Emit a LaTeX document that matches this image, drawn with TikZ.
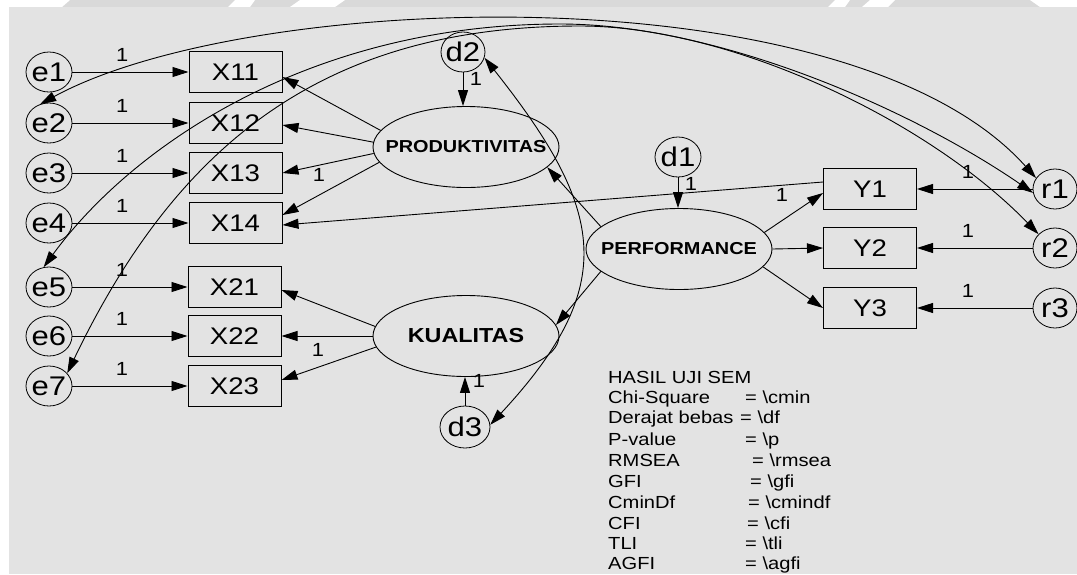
\documentclass[tikz,border=0pt]{standalone}
\usepackage{fontspec}
\setmainfont[FakeStretch=1.15]{Liberation Sans}
\usetikzlibrary{arrows.meta,shapes.geometric}
\definecolor{canvas}{HTML}{E3E3E3}
\definecolor{band}{HTML}{D9D9D9}

\begin{document}
\begin{tikzpicture}[x=1pt,y=-1pt,
  every node/.style={inner sep=0pt},
  link/.style={line width=0.9pt,-{Triangle[length=16pt,width=10pt]}},
  cov/.style={line width=0.9pt,{Triangle[length=16pt,width=10pt]}-{Triangle[length=16pt,width=10pt]}},
  obs/.style={draw,line width=1pt,rectangle,minimum width=93pt,minimum height=41pt,
    font=\fontsize{24}{24}\selectfont},
  err/.style={draw,line width=0.8pt,ellipse,minimum width=46pt,minimum height=40pt,
    inner sep=-6pt,font=\fontsize{27}{27}\selectfont},
  lat/.style={draw,line width=0.9pt,ellipse,minimum width=186pt,minimum height=81pt,
    inner sep=-30pt,font=\bfseries\fontsize{17.3}{17.3}\selectfont},
  one/.style={font=\fontsize{19}{19}\selectfont},
  stat/.style={anchor=base west,font=\fontsize{17.5}{17.5}\selectfont},
]
% paper with its faint slanted stripes, and the drawing area
\fill[white] (0,0) rectangle (1077,574);
\fill[band] (0,0) rectangle (1077,7);
\fill[white] (0,0) -- (70,0) -- (62,7) -- (0,7) -- cycle;
\fill[white] (235,0) -- (255,0) -- (250,7) -- (228,7) -- cycle;
\fill[white] (300,0) -- (345,0) -- (335,7) -- (290,7) -- cycle;
\fill[white] (835,0) -- (850,0) -- (845,7) -- (828,7) -- cycle;
\fill[white] (870,0) -- (895,0) -- (888,7) -- (862,7) -- cycle;
\fill[white] (1030,0) -- (1077,0) -- (1077,7) -- (1040,7) -- cycle;
\fill[canvas] (9,7) rectangle (1077,574);
\useasboundingbox (0,0) rectangle (1077,574);

% error terms of the indicators
\foreach \i/\y in {1/72,2/123,3/173,4/223,5/287,6/336,7/386}
  \node[err] (e\i) at (49,\y) {e\i};

% observed indicators
\node[obs] (x11) at (235.5,72)  {X11};
\node[obs] (x12) at (235.5,123) {X12};
\node[obs] (x13) at (235.5,173) {X13};
\node[obs] (x14) at (235.5,223) {X14};
\node[obs] (x21) at (234.5,287) {X21};
\node[obs] (x22) at (234.5,336) {X22};
\node[obs] (x23) at (234.5,386) {X23};

% latent constructs
\node[lat] (prod) at (466,147) {PRODUKTIVITAS};
\node[lat] (perf) at (679,249) {PERFORMANCE};
\node[lat,font=\bfseries\fontsize{20.3}{20.3}\selectfont] (kual) at (466,336) {KUALITAS};

% disturbances
\node[err,minimum width=44pt] (d2) at (463,52)  {d2};
\node[err] (d1) at (678,157) {d1};
\node[err,minimum width=50pt,minimum height=42pt] (d3) at (465,427) {d3};

% outcome indicators and their errors
\node[obs] (y1) at (870,189) {Y1};
\node[obs] (y2) at (870,248) {Y2};
\node[obs] (y3) at (870,308) {Y3};
\node[err,minimum width=44pt] (r1) at (1055,189) {r1};
\node[err,minimum width=44pt] (r2) at (1055,248) {r2};
\node[err,minimum width=44pt] (r3) at (1055,308) {r3};

% error -> indicator paths
\foreach \i/\j in {1/11,2/12,3/13,4/14,5/21,6/22,7/23}
  \draw[link] (e\i) -- node[one,pos=.43,yshift=17pt] {1} (x\j);
\foreach \i in {1,2,3}
  \draw[link] (r\i) -- node[one,pos=.56,yshift=17pt] {1} (y\i);

% loadings of PRODUKTIVITAS
\draw[link] (prod.169) -- ([yshift=-5pt]x11.east);
\draw[link] (prod.177) -- ([yshift=-2pt]x12.east);
\draw[link] (prod.184) -- node[one,pos=.6,yshift=-10pt] {1} (x13.east);
\draw[link] (prod.190) -- ([yshift=8pt]x14.east);

% loadings of KUALITAS
\draw[link] (kual.174) -- ([yshift=-3pt]x21.east);
\draw[link] (kual.180) -- node[one,pos=.6,yshift=-14pt] {1} (x22.east);
\draw[link] (kual.187) -- ([yshift=6pt]x23.east);

% loadings of PERFORMANCE
\draw[link] (perf.11)  -- ([yshift=-4pt]y1.west);
\draw[link] (perf.0)   -- (y2.west);
\draw[link] (perf.348) -- (y3.west);
\draw[link] ([yshift=7pt]y1.west) -- node[one,pos=.076,yshift=-10pt] {1} ([yshift=-2pt]x14.east);

% structural paths
\draw[link] (perf.164) -- (prod.346);
\draw[link] (perf.196) -- (kual.7);

% disturbance paths
\draw[link] (d2.south) -- node[one,pos=.2,xshift=13pt] {1} (d2.south |- prod.north);
\draw[link] (d1.south) -- node[one,pos=.2,xshift=13pt] {1} (d1.south |- perf.north);
\draw[link] (d3.north) -- node[one,pos=.85,xshift=14pt] {1} (d3.north |- kual.south);

% covariances
\coordinate (top5) at (560,24);
\coordinate (top7) at (580,26);
\draw[cov] (d2.-15) .. controls (605,210) and (620,285) .. (d3.5);
\draw[cov] (e2.115) .. controls (250,-10) and (850,-30) .. (r1.150);
\draw[cov] (e5.105) .. controls (132,146) and (310,24) .. (top5)
                    .. controls (720,24) and (914,111) .. (r1.190);
\draw[cov] (e7.35)  .. controls (180,138) and (330,26) .. (top7)
                    .. controls (730,26) and (928,120) .. (r2.140);

% fit summary
\node[stat] (s0) at (608,383) {HASIL UJI SEM};
\foreach \k/\lab/\y/\x/\val in {1/Chi-Square/403/745/cmin,2/Derajat bebas/423/740/df,
    3/P-value/445/745/p,4/RMSEA/466/752/rmsea,5/GFI/487/750/gfi,6/CminDf/508/748/cmindf,
    7/CFI/529/747/cfi,8/TLI/549/745/tli,9/AGFI/569/745/agfi}{
  \node[stat] (s\k) at (608,\y) {\lab};
  \node[stat] (v\k) at (\x,\y) {= \textbackslash\val};
}
\end{tikzpicture}
\end{document}
